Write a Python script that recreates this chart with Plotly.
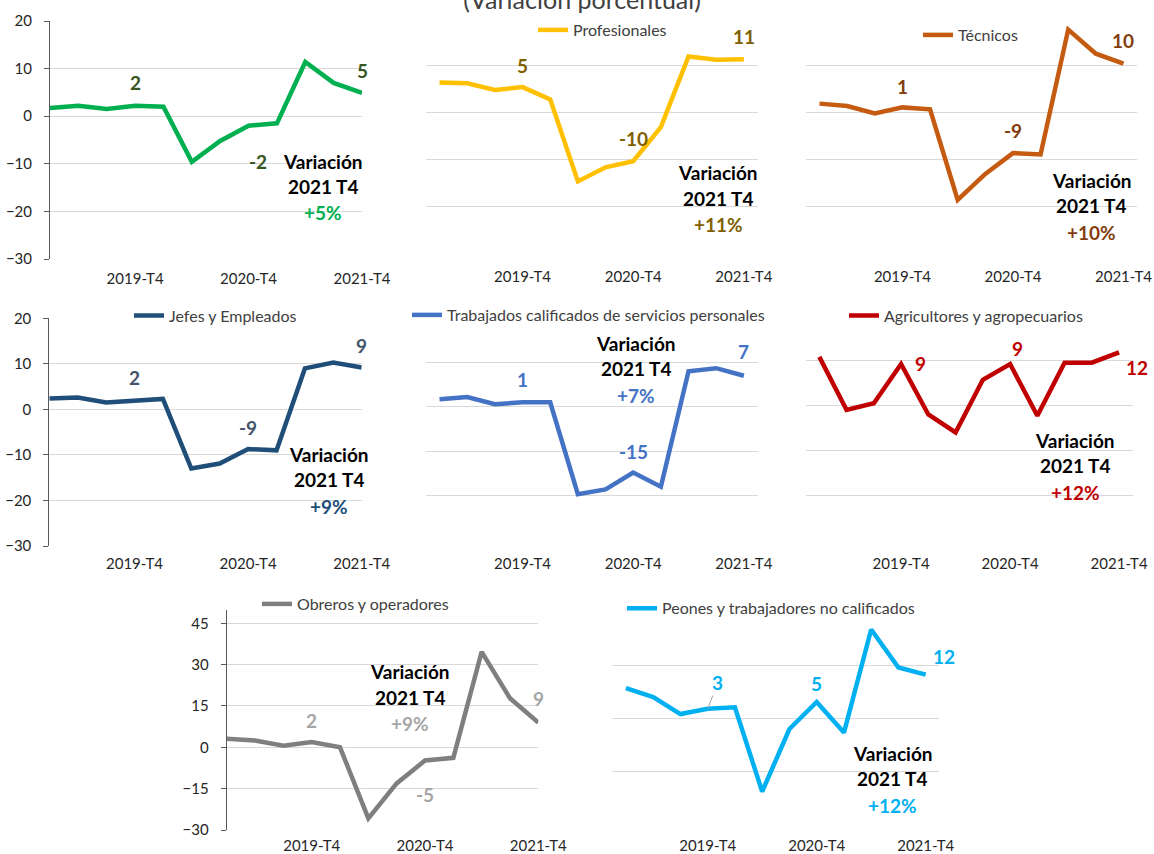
import plotly.graph_objects as go

W, H = 1154, 854
FONT = "Lato"

# ---------------- data ----------------
quarters = ["2019-T1", "2019-T2", "2019-T3", "2019-T4",
            "2020-T1", "2020-T2", "2020-T3", "2020-T4",
            "2021-T1", "2021-T2", "2021-T3", "2021-T4"]
shown_ticks = ["2019-T4", "2020-T4", "2021-T4"]
labelled_quarters = ["2019-T4", "2020-T4", "2021-T4"]

funcionarios = [1.7, 2.2, 1.5, 2.2, 2.0, -9.6, -5.2, -2.0, -1.5, 11.4, 7.0, 4.9]
profesionales = [6.4, 6.2, 4.8, 5.4, 2.8, -14.6, -11.6, -10.3, -3.1, 11.9, 11.2, 11.3]
tecnicos = [1.9, 1.4, -0.2, 1.1, 0.7, -18.5, -13.0, -8.6, -8.9, 17.6, 12.5, 10.4]
jefes = [2.4, 2.6, 1.5, 1.8, 2.3, -13.0, -11.9, -8.7, -9.0, 9.0, 10.3, 9.2]
trabajadores = [1.7, 2.2, 0.6, 1.0, 1.0, -19.7, -18.6, -14.8, -18.0, 8.0, 8.7, 7.0]
agricultores = [10.7, -1.1, 0.4, 9.1, -2.1, -6.1, 5.6, 9.1, -2.4, 9.4, 9.4, 11.7]
obreros = [3.1, 2.5, 0.6, 1.9, 0.0, -25.8, -13.1, -4.8, -3.8, 34.6, 17.8, 9.0]
peones = [8.5, 6.0, 1.2, 2.7, 3.1, -20.6, -3.0, 4.6, -4.0, 25.0, 14.3, 12.3]

# ---------------- panel styling / layout ----------------
panels = [
    dict(name="Funcionarios y directivos", values=funcionarios, color="#00B050",
         label_color="#375623", pct_color="#00B050",
         box=(50, 362, 21, 259), yrange=(-30, 20), dtick=10, on_ticks=True, ylabels=True,
         legend_px=(115, 32), shifts=[(0, 23), (9, -36), (0, 22)], var_px=(323, 161), xlab_y=280),
    dict(name="Profesionales", values=profesionales, color="#FFC000",
         label_color="#7F6000", pct_color="#7F6000",
         box=(425.7, 757.7, 18.3, 254), yrange=(-30, 20), dtick=10, on_ticks=False, ylabels=False,
         legend_px=(539, 30), shifts=[(0, 22), (0, 23), (0, 23)], var_px=(718, 172.7), xlab_y=278),
    dict(name="Técnicos", values=tecnicos, color="#C55A11",
         label_color="#843C0C", pct_color="#843C0C",
         box=(805.7, 1137.3, 18.3, 254), yrange=(-30, 20), dtick=10, on_ticks=False, ylabels=False,
         legend_px=(924, 35), shifts=[(0, 21), (0, 23), (0, 23)], var_px=(1091.7, 180), xlab_y=278),
    dict(name="Jefes y Empleados", values=jefes, color="#1F4E79",
         label_color="#44546A", pct_color="#1F4E79",
         box=(49.3, 361.7, 318.3, 546), yrange=(-30, 20), dtick=10, on_ticks=True, ylabels=True,
         legend_px=(135, 315.7), shifts=[(0, 24), (0, 22), (0, 22)], var_px=(329.3, 454.3), xlab_y=565),
    dict(name="Trabajados calificados de servicios personales", values=trabajadores, color="#4472C4",
         label_color="#4472C4", pct_color="#4472C4",
         box=(425.7, 757.7, 318, 540), yrange=(-30, 20), dtick=10, on_ticks=False, ylabels=False,
         legend_px=(413, 315), shifts=[(0, 23), (0, 21), (0, 24)], var_px=(636, 343.3), xlab_y=565),
    dict(name="Agricultores y agropecuarios", values=agricultores, color="#C00000",
         label_color="#C00000", pct_color="#C00000",
         box=(805.7, 1132.7, 315, 540), yrange=(-30, 20), dtick=10, on_ticks=False, ylabels=False,
         legend_px=(850, 315.7), shifts=[(19, 1), (7, 16), (18, -15)], var_px=(1075, 440), xlab_y=565),
    dict(name="Obreros y operadores", values=obreros, color="#7F7F7F",
         label_color="#A6A6A6", pct_color="#A6A6A6",
         box=(226.7, 538.3, 609.5, 830), yrange=(-30, 50), dtick=15, on_ticks=True, ylabels=True,
         legend_px=(263, 604), shifts=[(0, 22), (0, -34), (0, 24)], var_px=(410, 671.7), xlab_y=847),
    dict(name="Peones y trabajadores no calificados", values=peones, color="#00B0F0",
         label_color="#00B0F0", pct_color="#00B0F0",
         box=(612.3, 939.3, 611.7, 825), yrange=(-30, 30), dtick=15, on_ticks=False, ylabels=False,
         legend_px=(628, 608.3), shifts=[None, (0, 19), (18, 18)], var_px=(892.7, 753.3), xlab_y=847),
]


def fx(px):
    return px / W


def fy(py):
    return 1 - py / H


fig = go.Figure()
layout = dict(
    width=W, height=H, margin=dict(l=0, r=0, t=0, b=0, autoexpand=False),
    paper_bgcolor="white", plot_bgcolor="white",
    font=dict(family=FONT, size=15, color="#404040"),
    annotations=[],
    title=dict(text="(Variación porcentual)", x=fx(582), xanchor="center", xref="paper",
               y=1, yanchor="middle", yref="container", automargin=False,
               font=dict(family=FONT, size=25, color="#404040")),
)

n = len(quarters)
xs = list(range(n))
label_idx = [quarters.index(q) for q in labelled_quarters]

for i, p in enumerate(panels, start=1):
    x0, x1, ytop, ybot = p["box"]
    ymin, ymax = p["yrange"]
    xrange = [0, n - 1] if p["on_ticks"] else [-0.5, n - 0.5]
    ydom = [fy(ybot), fy(ytop)]
    xdom = [fx(x0), fx(x1)]
    zero_pos = ydom[0] + (0 - ymin) / (ymax - ymin) * (ydom[1] - ydom[0])
    legend_name = "legend" if i == 1 else f"legend{i}"

    fig.add_trace(go.Scatter(
        x=xs, y=p["values"], mode="lines", name=p["name"],
        line=dict(color=p["color"], width=4.5),
        xaxis=f"x{i}", yaxis=f"y{i}", legend=legend_name, hoverinfo="skip",
    ))

    # bottom axis: only category labels
    layout[f"xaxis{i}"] = dict(
        domain=xdom, anchor=f"y{i}", range=xrange, automargin=False,
        tickmode="array", tickvals=[quarters.index(q) for q in shown_ticks], ticktext=shown_ticks,
        ticks="", showline=False, showgrid=False, zeroline=False,
        ticklabelstandoff=max(0, p["xlab_y"] - ybot - 12),
        tickfont=dict(family=FONT, size=15, color="#262626"),
    )
    # axis line crossing at zero with tick marks
    if p["on_ticks"]:
        tv = xs
    else:
        tv = [k - 0.5 for k in range(n + 1)]
    layout[f"xaxis{i + 8}"] = dict(
        overlaying=f"x{i}", anchor="free", position=zero_pos, range=xrange, automargin=False,
        tickmode="array", tickvals=tv, showticklabels=False,
        ticks="outside", ticklen=5, tickcolor="#000000", tickwidth=1,
        showline=True, linecolor="#000000", linewidth=1,
        showgrid=False, zeroline=False, layer="below traces",
    )
    ya = dict(
        domain=ydom, anchor=f"x{i}", range=[ymin, ymax], automargin=False,
        tickmode="linear", tick0=ymin, dtick=p["dtick"],
        showgrid=True, gridcolor="#D9D9D9", gridwidth=1, zeroline=False,
    )
    if p["ylabels"]:
        ya.update(showline=True, linecolor="#595959", linewidth=1, ticks="outside",
                  ticklen=5, tickcolor="#595959", showticklabels=True,
                  ticklabelstandoff=9,
                  tickfont=dict(family=FONT, size=15, color="#262626"))
    else:
        ya.update(showline=False, ticks="", showticklabels=False)
    layout[f"yaxis{i}"] = ya

    lx, ly = p["legend_px"]
    layout[legend_name] = dict(
        x=fx(lx - 6), y=fy(ly), xanchor="left", yanchor="middle",
        bgcolor="rgba(0,0,0,0)", borderwidth=0, itemwidth=30,
        font=dict(family=FONT, size=16, color="#404040"),
    )

    # data labels
    for k, idx in enumerate(label_idx):
        val = p["values"][idx]
        txt = f"<b>{round(val):d}</b>"
        sh = p["shifts"][k]
        if sh is None:
            layout["annotations"].append(dict(
                x=idx, y=val, xref=f"x{i}", yref=f"y{i}", text=txt,
                showarrow=True, arrowhead=0, arrowwidth=1, arrowcolor="#A6A6A6",
                ax=10, ay=-26, standoff=0,
                font=dict(family=FONT, size=19, color=p["label_color"]),
            ))
        else:
            layout["annotations"].append(dict(
                x=idx, y=val, xref=f"x{i}", yref=f"y{i}", text=txt, showarrow=False,
                xshift=sh[0], yshift=sh[1],
                font=dict(family=FONT, size=19, color=p["label_color"]),
            ))

    # "Variación 2021 T4" box
    vx, vy = p["var_px"]
    last = p["values"][-1]
    for j, (txt, col) in enumerate([("<b>Variación</b>", "#000000"),
                                    ("<b>2021 T4</b>", "#000000"),
                                    (f"<b>{round(last):+d}%</b>", p["pct_color"])]):
        dy = [0, 25.5, 52][j]
        layout["annotations"].append(dict(
            x=fx(vx), y=fy(vy + dy), xref="paper", yref="paper", text=txt, showarrow=False,
            xanchor="center", yanchor="middle",
            font=dict(family=FONT, size=19, color=col),
        ))

fig.update_layout(**layout)
fig.write_html(
    "out.html",
    config={"displayModeBar": False},
    post_script="document.body.style.margin='0';document.body.style.overflow='hidden';",
)
